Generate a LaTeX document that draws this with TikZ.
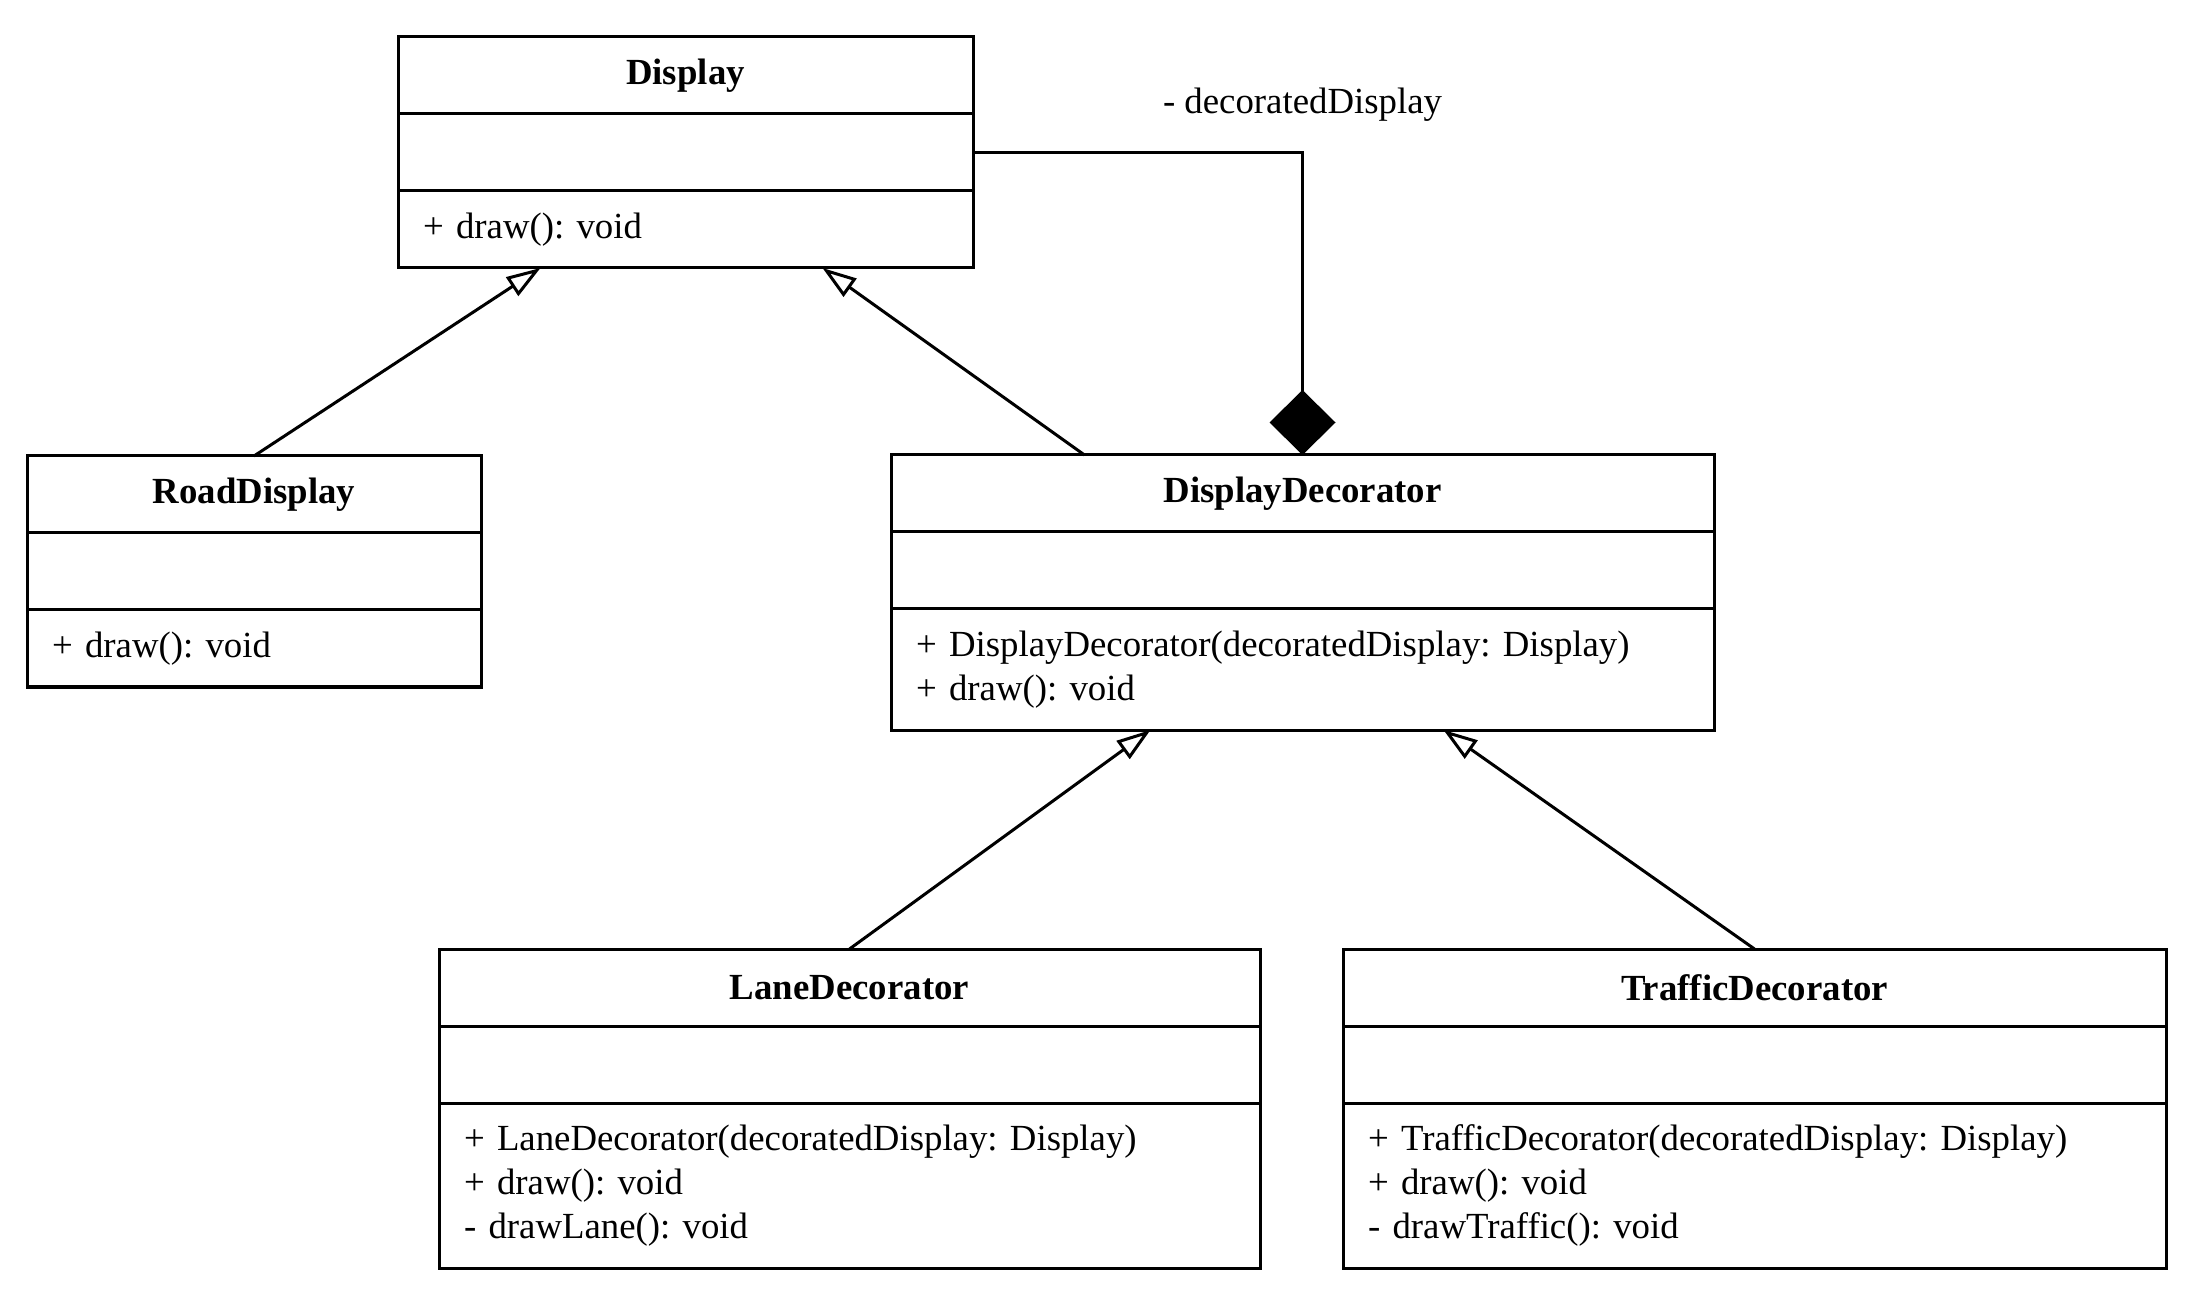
\documentclass[tikz,border=0pt]{standalone}
\usepackage{fontspec}
\setmainfont{Liberation Serif}
\usetikzlibrary{positioning,calc,arrows.meta}
\frenchspacing

\begin{document}
\begin{tikzpicture}[x=0.5pt,y=-0.5pt,inner sep=0pt,outer sep=0pt,line width=1.5pt,
font=\fontsize{18.4}{22}\selectfont,
classhead/.style={draw,rectangle,minimum height=38.5pt,align=center,font=\fontsize{18.4}{22}\selectfont\bfseries},
classpart/.style={draw,rectangle,minimum height=38.5pt,inner xsep=12.5pt,align=left},
inherit/.style={-{Triangle[open,length=17pt,width=11pt]}},
compose/.style={-{Diamond[length=32.5pt,width=33pt]}}]
\useasboundingbox (0,0) rectangle (2208,1310);
% Display
\node[classhead,anchor=north west,text width=287.5pt] (disphead) at (398,37) {Display};
\node[classpart,below=0pt of disphead,text width=262.5pt] (dispattr) {};
\node[classpart,below=0pt of dispattr,text width=262.5pt] (dispops) {+ draw(): void};
% RoadDisplay
\node[classhead,anchor=north west,text width=227pt] (roadhead) at (27,456) {RoadDisplay};
\node[classpart,below=0pt of roadhead,text width=202pt] (roadattr) {};
\node[classpart,below=0pt of roadattr,text width=202pt] (roadops) {+ draw(): void};
% DisplayDecorator
\node[classhead,anchor=north west,text width=411.5pt] (dechead) at (891,455) {DisplayDecorator};
\node[classpart,below=0pt of dechead,text width=386.5pt] (decattr) {};
\node[classpart,below=0pt of decattr,text width=386.5pt,minimum height=60.5pt] (decops)
  {+ DisplayDecorator(decoratedDisplay: Display)\\+ draw(): void};
% LaneDecorator
\node[classhead,anchor=north west,text width=410.5pt] (lanehead) at (439,949) {LaneDecorator};
\node[classpart,below=0pt of lanehead,text width=385.5pt] (laneattr) {};
\node[classpart,below=0pt of laneattr,text width=385.5pt,minimum height=82.5pt] (laneops)
  {+ LaneDecorator(decoratedDisplay: Display)\\+ draw(): void\\- drawLane(): void};
% TrafficDecorator
\node[classhead,anchor=north west,text width=411.5pt] (traffichead) at (1343,949) {TrafficDecorator};
\node[classpart,below=0pt of traffichead,text width=386.5pt] (trafficattr) {};
\node[classpart,below=0pt of trafficattr,text width=386.5pt,minimum height=82.5pt] (trafficops)
  {+ TrafficDecorator(decoratedDisplay: Display)\\+ draw(): void\\- drawTraffic(): void};
% relations
\draw[inherit] (roadhead.north) -- ($(dispops.south)+(-145,0)$);
\draw[inherit] ($(dechead.north)+(-218,0)$) -- ($(dispops.south)+(137,0)$);
\draw[inherit] (lanehead.north) -- ($(decops.south)+(-152,0)$);
\draw[inherit] (traffichead.north) -- ($(decops.south)+(141,0)$);
\draw[compose] (dispattr.east) -| (dechead.north)
  node[pos=0.5,yshift=24pt] (rolelabel) {- decoratedDisplay};
\end{tikzpicture}
\end{document}
